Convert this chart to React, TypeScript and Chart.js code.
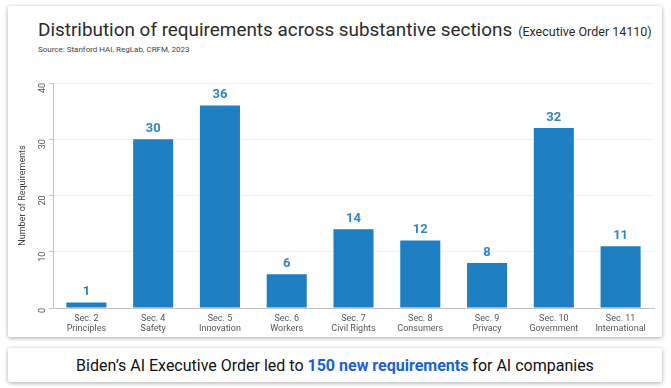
import React, { useEffect, useRef } from "react";
import { Chart, registerables } from "chart.js";

Chart.register(...registerables);

const sections = ["Sec. 2", "Sec. 4", "Sec. 5", "Sec. 6", "Sec. 7", "Sec. 8", "Sec. 9", "Sec. 10", "Sec. 11"];
const topics = ["Principles", "Safety", "Innovation", "Workers", "Civil Rights", "Consumers", "Privacy", "Government", "International"];
const requirements = [1, 30, 36, 6, 14, 12, 8, 32, 11];
const yTicks = [0, 10, 20, 30, 40];

const BAR = "#1f7fc3";
const LABEL = "#2f86c8";
const FONT = "Roboto, 'Noto Sans', sans-serif";

const valueLabels = {
  id: "valueLabels",
  afterDatasetsDraw(chart: any) {
    const ctx = chart.ctx;
    const meta = chart.getDatasetMeta(0);
    ctx.save();
    ctx.fillStyle = LABEL;
    ctx.font = `bold 13px ${FONT}`;
    ctx.textAlign = "center";
    ctx.textBaseline = "bottom";
    meta.data.forEach((el: any, i: number) => {
      ctx.fillText(String(requirements[i]), el.x, el.y - 4);
    });
    ctx.restore();
  },
};

export default function App() {
  const ref = useRef<HTMLCanvasElement>(null);
  useEffect(() => {
    if (!ref.current) return;
    const chart = new Chart(ref.current, {
      type: "bar",
      data: {
        labels: sections.map((s, i) => [s, topics[i]]),
        datasets: [
          {
            data: requirements,
            backgroundColor: BAR,
            categoryPercentage: 0.6,
            barPercentage: 1,
          },
        ],
      },
      options: {
        animation: false,
        responsive: false,
        maintainAspectRatio: false,
        layout: { padding: { top: 13, right: 6, left: 0, bottom: 0 } },
        plugins: { legend: { display: false }, tooltip: { enabled: false } },
        scales: {
          x: {
            grid: { display: false, drawTicks: false },
            border: { color: "#c4c4c4", width: 1 },
            ticks: {
              color: "#555",
              font: { family: FONT, size: 9 },
              padding: 5,
              maxRotation: 0,
              autoSkip: false,
            },
            afterFit: (s: any) => {
              s.height = 27;
            },
          },
          y: {
            min: 0,
            max: 40,
            afterBuildTicks: (s: any) => {
              s.ticks = yTicks.map((v) => ({ value: v }));
            },
            grid: { color: "#f1f1f1", tickColor: "#c4c4c4", tickLength: 4 },
            border: { color: "#c4c4c4", width: 1 },
            ticks: {
              color: "#555",
              font: { family: FONT, size: 9 },
              minRotation: 90,
              maxRotation: 90,
              padding: 6,
            },
            title: {
              display: true,
              text: "Number of Requirements",
              color: "#444",
              font: { family: FONT, size: 9 },
              padding: { top: 7, bottom: 2 },
            },
            afterFit: (s: any) => {
              s.width = 43;
            },
          },
        },
      },
      plugins: [valueLabels],
    });
    return () => chart.destroy();
  }, []);

  return (
    <div style={{ position: "fixed", left: 0, top: 0, width: 671, height: 388, background: "#fff", fontFamily: FONT, overflow: "hidden" }}>
      <div
        style={{
          position: "absolute",
          left: 8,
          top: 6,
          width: 654,
          height: 331,
          background: "#fff",
          boxShadow: "0 1px 4px rgba(0,0,0,0.35)",
          borderRadius: 2,
        }}
      />
      <div style={{ position: "absolute", left: 38, top: 18, whiteSpace: "nowrap", color: "#2b2b2b" }}>
        <span style={{ fontSize: 18.9, fontWeight: 400 }}>Distribution of requirements across substantive sections</span>
        <span style={{ fontSize: 12.5, marginLeft: 6 }}>(Executive Order 14110)</span>
      </div>
      <div style={{ position: "absolute", left: 38, top: 45, fontSize: 8, color: "#444", whiteSpace: "nowrap" }}>
        Source: Stanford HAI, RegLab, CRFM, 2023
      </div>
      <canvas ref={ref} width={650} height={265} style={{ position: "absolute", left: 10, top: 70, width: 650, height: 265 }} />
      <div
        style={{
          position: "absolute",
          left: 8,
          top: 348,
          width: 654,
          height: 34,
          background: "#fff",
          boxShadow: "0 1px 4px rgba(0,0,0,0.35)",
          borderRadius: 2,
          display: "flex",
          alignItems: "center",
          justifyContent: "center",
          fontSize: 16,
          color: "#111",
          whiteSpace: "nowrap",
        }}
      >
        <span>
          Biden’s AI Executive Order led to{" "}
          <b style={{ color: "#1a62d4", fontWeight: 700 }}>150 new requirements</b> for AI companies
        </span>
      </div>
    </div>
  );
}
